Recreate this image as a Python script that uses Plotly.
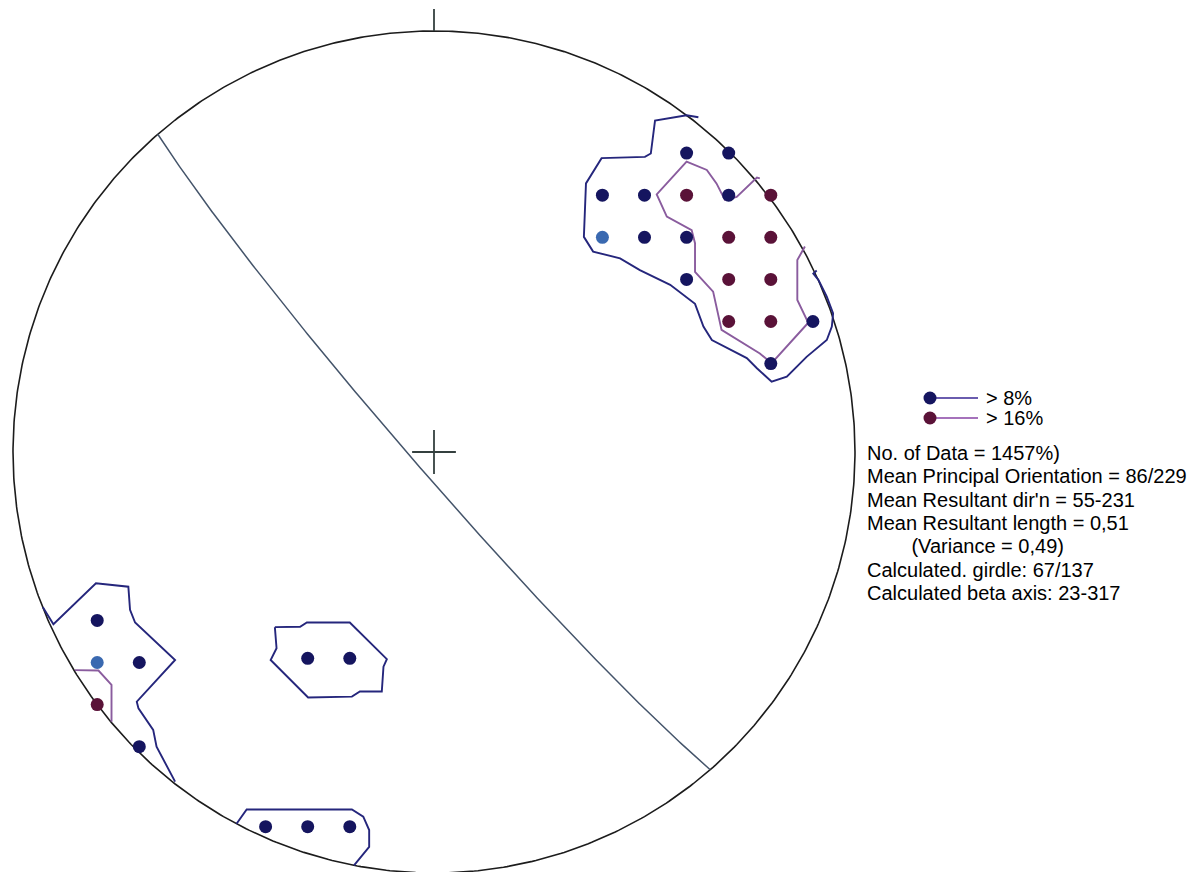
import numpy as np
import plotly.graph_objects as go

# ---------------- data ----------------
# density grid nodes (equal-area net, unit radius), class = contour level
dot_x = [0.6, 0.7, 0.4, 0.5, 0.6, 0.7, 0.8, 0.4, 0.5, 0.6, 0.7, 0.8, 0.6, 0.7, 0.8, 0.7, 0.8, 0.9, 0.8,
         -0.8, -0.8, -0.7, -0.8, -0.7, -0.3, -0.2, -0.4, -0.3, -0.2]
dot_y = [0.71, 0.71, 0.61, 0.61, 0.61, 0.61, 0.61, 0.51, 0.51, 0.51, 0.51, 0.51, 0.41, 0.41, 0.41, 0.31, 0.31, 0.31, 0.21,
         -0.40, -0.50, -0.50, -0.60, -0.70, -0.49, -0.49, -0.89, -0.89, -0.89]
dot_class = ["8", "8", "8", "8", "16", "8", "16", "low", "8", "8", "16", "16", "8", "16", "16", "16", "16", "8", "8",
             "8", "low", "8", "16", "8", "8", "8", "8", "8", "8"]

# contour polylines (>8 %)
c8_ne_x = [0.628, 0.600, 0.525, 0.515, 0.501, 0.398, 0.361, 0.356, 0.378, 0.442, 0.489, 0.561, 0.620, 0.640,
           0.660, 0.743, 0.767, 0.802, 0.838, 0.885, 0.933, 0.945, 0.948, 0.933, 0.913, 0.901, 0.909]
c8_ne_y = [0.795, 0.800, 0.787, 0.709, 0.701, 0.698, 0.638, 0.511, 0.476, 0.460, 0.432, 0.397, 0.352, 0.298,
           0.266, 0.223, 0.199, 0.167, 0.179, 0.226, 0.266, 0.298, 0.329, 0.369, 0.409, 0.424, 0.431]
c8_sw_x = [-0.929, -0.904, -0.803, -0.726, -0.722, -0.710, -0.615, -0.706, -0.702, -0.667, -0.659, -0.615]
c8_sw_y = [-0.369, -0.409, -0.312, -0.320, -0.375, -0.405, -0.494, -0.593, -0.609, -0.660, -0.700, -0.783]
c8_mid_x = [-0.378, -0.318, -0.302, -0.200, -0.112, -0.120, -0.124, -0.176, -0.195, -0.299, -0.388, -0.374, -0.378]
c8_mid_y = [-0.416, -0.415, -0.405, -0.405, -0.492, -0.510, -0.569, -0.569, -0.581, -0.583, -0.494, -0.466, -0.416]
c8_s_x = [-0.469, -0.445, -0.195, -0.168, -0.154, -0.154, -0.190]
c8_s_y = [-0.883, -0.849, -0.849, -0.866, -0.898, -0.938, -0.982]

# contour polylines (>16 %)
c16_ne_x = [0.774, 0.767, 0.719, 0.691, 0.671, 0.648, 0.600, 0.529, 0.553, 0.612, 0.620, 0.620, 0.663, 0.683,
            0.774, 0.802, 0.889, 0.863, 0.863, 0.881]
c16_ne_y = [0.650, 0.652, 0.606, 0.599, 0.638, 0.670, 0.690, 0.612, 0.559, 0.527, 0.496, 0.428, 0.381, 0.290,
            0.234, 0.211, 0.307, 0.361, 0.456, 0.488]
c16_sw_x = [-0.853, -0.797, -0.766, -0.766]
c16_sw_y = [-0.518, -0.519, -0.553, -0.641]

# mean principal orientation plane (dip / dip direction)
plane_dip = 86
plane_dipdir = 229

legend_labels = ["> 8%", "> 16%"]
stats_lines = [
    "No. of Data = 1457%)",
    "Mean Principal Orientation = 86/229",
    "Mean Resultant dir'n = 55-231",
    "Mean Resultant length = 0,51",
    "        (Variance = 0,49)",
    "Calculated. girdle: 67/137",
    "Calculated beta axis: 23-317",
]

# ---------------- styles ----------------
DOT_COL = {"8": "#15155f", "16": "#5a1238", "low": "#3a69b0"}
C8_COL = "#25267c"
C16_COL = "#8a5c9e"
FONT = "Liberation Sans, Arial, sans-serif"

W, H = 1199, 872
CX, CY, R = 434, 452, 421  # pixel centre and radius of the net

fig = go.Figure()

# primitive circle
t = np.linspace(0, 2 * np.pi, 721)
fig.add_trace(go.Scatter(x=np.cos(t), y=np.sin(t), mode="lines",
                         line=dict(color="#1c1c1c", width=1.6), hoverinfo="skip", showlegend=False))

# great circle of plane, lower hemisphere equal-area
strike = np.radians(plane_dipdir - 90)
dd = np.radians(plane_dipdir)
dip = np.radians(plane_dip)
s_vec = np.array([np.cos(strike), np.sin(strike), 0.0])
d_vec = np.array([np.cos(dip) * np.cos(dd), np.cos(dip) * np.sin(dd), np.sin(dip)])
th = np.linspace(0, np.pi, 301)
v = np.outer(np.cos(th), s_vec) + np.outer(np.sin(th), d_vec)
plunge = np.arcsin(np.clip(v[:, 2], -1, 1))
trend = np.arctan2(v[:, 1], v[:, 0])
rr = np.sqrt(2) * np.sin((np.pi / 2 - plunge) / 2)
fig.add_trace(go.Scatter(x=rr * np.sin(trend), y=rr * np.cos(trend), mode="lines",
                         line=dict(color="#44546a", width=1.5), hoverinfo="skip", showlegend=False))

# centre cross and north tick
a = 0.052
fig.add_trace(go.Scatter(x=[-a, a, None, 0, 0, None, 0, 0], y=[0, 0, None, -a, a, None, 1, 1 + a],
                         mode="lines", line=dict(color="#34403f", width=1.8), hoverinfo="skip", showlegend=False))

# contours
for xs, ys in [(c8_ne_x, c8_ne_y), (c8_sw_x, c8_sw_y), (c8_mid_x, c8_mid_y), (c8_s_x, c8_s_y)]:
    fig.add_trace(go.Scatter(x=xs, y=ys, mode="lines", line=dict(color=C8_COL, width=1.9),
                             hoverinfo="skip", showlegend=False))
for xs, ys in [(c16_ne_x, c16_ne_y), (c16_sw_x, c16_sw_y)]:
    fig.add_trace(go.Scatter(x=xs, y=ys, mode="lines", line=dict(color=C16_COL, width=1.9),
                             hoverinfo="skip", showlegend=False))

# grid dots
fig.add_trace(go.Scatter(x=dot_x, y=dot_y, mode="markers",
                         marker=dict(size=13, color=[DOT_COL[c] for c in dot_class], line=dict(width=0)),
                         hoverinfo="skip", showlegend=False))

# custom legend
def px2x(p):
    return (p - CX) / R

def py2y(p):
    return (CY - p) / R

leg_cols = [(DOT_COL["8"], "#6a5cae"), (DOT_COL["16"], "#a572bb")]
for i, (lab, (mc, lc)) in enumerate(zip(legend_labels, leg_cols)):
    yy = py2y(398 + 20 * i)
    fig.add_trace(go.Scatter(x=[px2x(930), px2x(978)], y=[yy, yy], mode="lines",
                             line=dict(color=lc, width=2), hoverinfo="skip", showlegend=False))
    fig.add_trace(go.Scatter(x=[px2x(930)], y=[yy], mode="markers",
                             marker=dict(size=13, color=mc), hoverinfo="skip", showlegend=False))
    fig.add_annotation(x=px2x(984), y=yy, text=lab, showarrow=False, xanchor="left", yanchor="middle",
                       font=dict(family=FONT, size=20, color="black"))

for i, line in enumerate(stats_lines):
    fig.add_annotation(x=px2x(865), y=py2y(453 + 23.3 * i), text=line.replace(" ", "&nbsp;") if line.startswith(" ") else line,
                       showarrow=False, xanchor="left", yanchor="middle",
                       font=dict(family=FONT, size=20, color="black"))

fig.update_layout(
    width=W, height=H, margin=dict(l=0, r=0, t=0, b=0),
    paper_bgcolor="white", plot_bgcolor="white",
    xaxis=dict(range=[px2x(0), px2x(W)], visible=False, fixedrange=True),
    yaxis=dict(range=[py2y(H), py2y(0)], visible=False, fixedrange=True),
    showlegend=False,
)

fig.write_html("out.html")
